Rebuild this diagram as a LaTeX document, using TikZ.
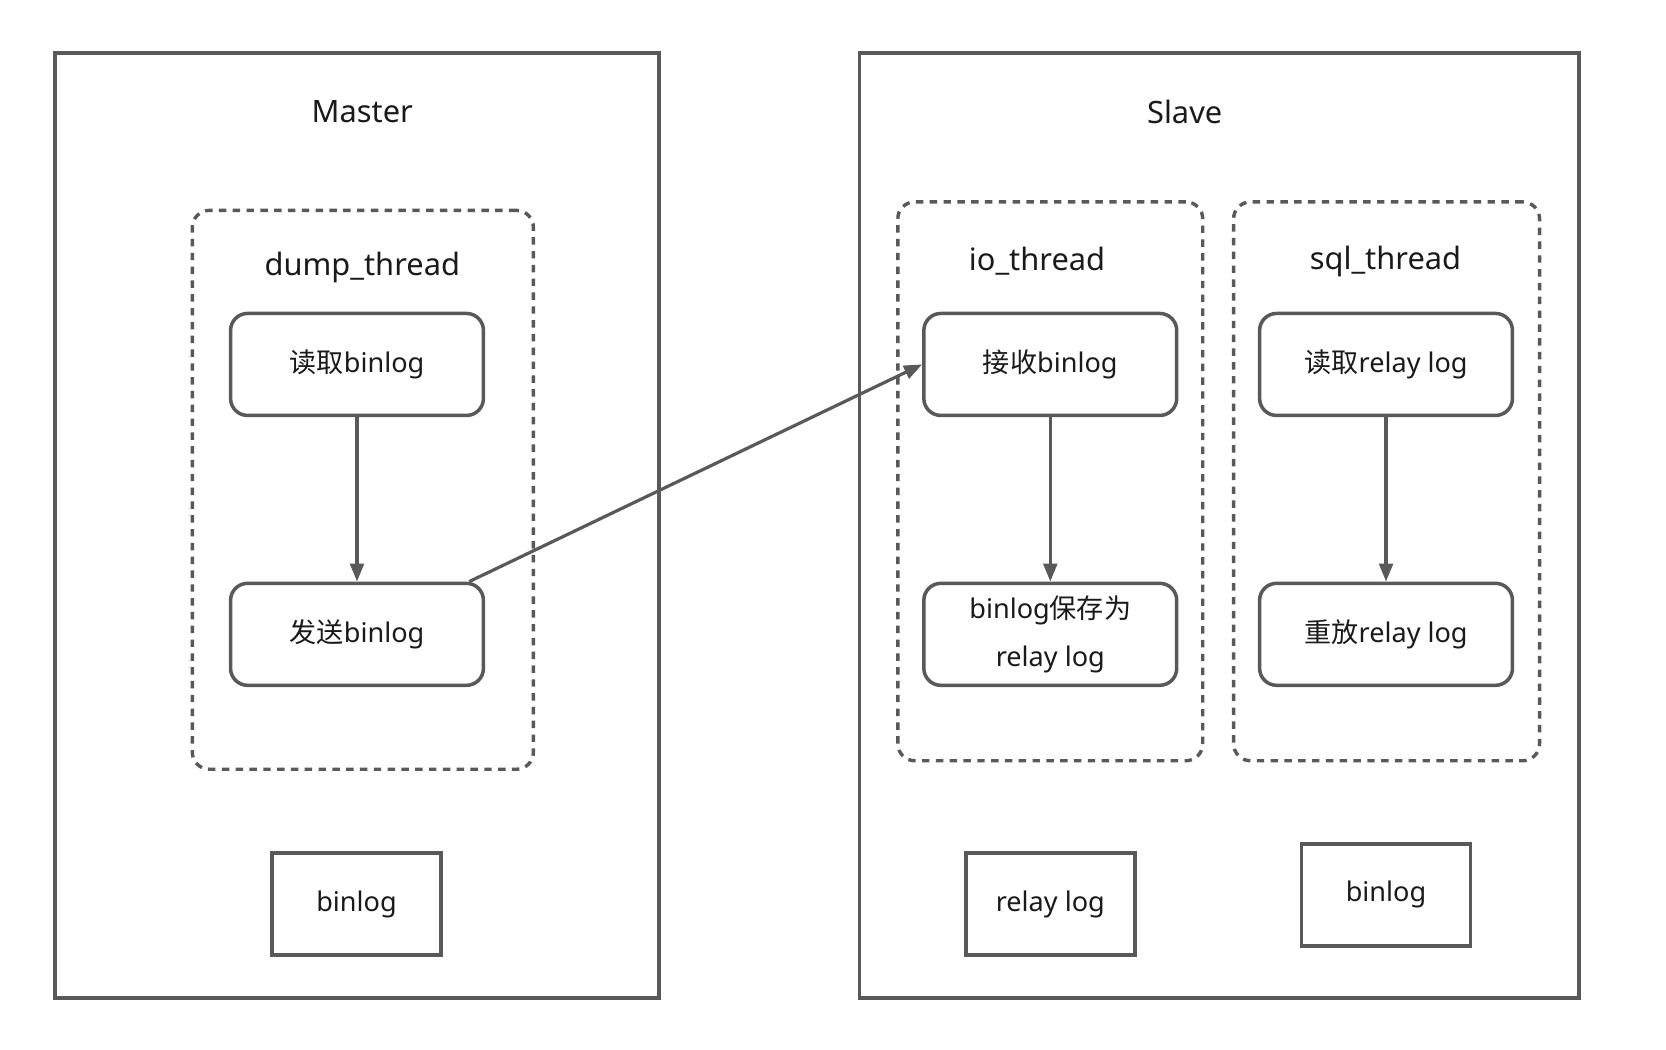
\documentclass[tikz,border=0pt]{standalone}
\usepackage{fontspec}
\setmainfont{Noto Sans}
\newfontfamily\cjk{Noto Sans CJK SC}
\usetikzlibrary{arrows.meta}
\definecolor{ln}{HTML}{595959}
\definecolor{tx}{HTML}{1A1A1A}
\begin{document}
\begin{tikzpicture}[x=1pt,y=-1pt,
  frame/.style={draw=ln,line width=3.6pt,inner sep=0pt},
  title/.style={text=tx,font=\fontsize{29}{34}\selectfont,inner sep=0pt,yshift=-2pt},
  group/.style={draw=ln,line width=3.2pt,dash pattern=on 7pt off 6pt,rounded corners=16pt,inner sep=0pt,minimum height=526pt},
  stepbox/.style={draw=ln,line width=3.3pt,rounded corners=16pt,minimum width=238pt,minimum height=96pt,inner sep=0pt,text=tx,font=\fontsize{25.5}{46}\selectfont,align=center},
  store/.style={draw=ln,line width=3.6pt,minimum width=159pt,minimum height=96pt,inner sep=0pt,text=tx,font=\fontsize{25.5}{30}\selectfont},
  flow/.style={draw=ln,line width=3pt,-{Triangle[length=17pt,width=13pt]}}]
\useasboundingbox[fill=white] (0,0) rectangle (1568,988);
% outer frames
\node[frame,minimum width=568pt,minimum height=889pt] (master) at (336,494.5) {};
\node[frame,minimum width=677pt,minimum height=889pt] (slave) at (1147.5,494.5) {};
\node[title] (mt) at (341,103) {Master};
\node[title] (st) at (1115,103) {Slave};
% thread groups
\node[group,minimum width=321pt] (dump) at (341.5,461) {};
\node[group,minimum width=287pt] (io) at (988.5,453) {};
\node[group,minimum width=288pt] (sql) at (1305,453) {};
\node[title] (dumpl) at (341,250) {dump\_thread};
\node[title] (iol) at (976,244) {io\_thread};
\node[title] (sqll) at (1304,244) {sql\_thread};
% steps
\node[stepbox] (read) at (336,343) {{\cjk 读取}binlog};
\node[stepbox] (send) at (336,597) {{\cjk 发送}binlog};
\node[stepbox] (recv) at (988.5,343) {{\cjk 接收}binlog};
\node[stepbox] (save) at (988.5,597) {binlog{\cjk 保存为}\\relay log};
\node[stepbox] (rread) at (1304.5,343) {{\cjk 读取}relay log};
\node[stepbox] (replay) at (1304.5,597) {{\cjk 重放}relay log};
% storage
\node[store] (mbin) at (335.5,851) {binlog};
\node[store] (relay) at (988.5,851) {relay log};
\node[store] (sbin) at (1304.5,842) {binlog};
% connectors
\draw[flow] (read) -- (send);
\draw[flow] (recv) -- (save);
\draw[flow] (rread) -- (replay);
\draw[flow] ([xshift=-15pt]send.north east) -- (recv.west);
\end{tikzpicture}
\end{document}
